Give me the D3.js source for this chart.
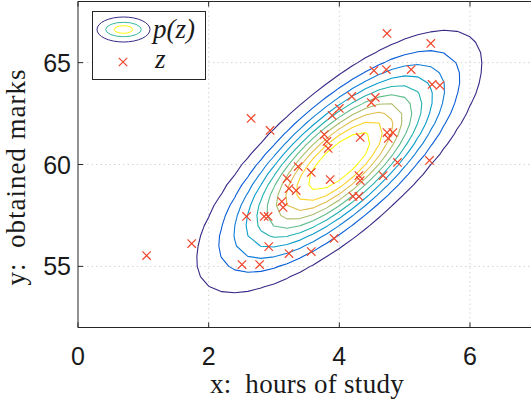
<!DOCTYPE html>
<html>
<head>
<meta charset="utf-8">
<script src="https://cdn.jsdelivr.net/npm/d3@7"></script>
<style>
  html, body { margin: 0; padding: 0; background: #fff; overflow: hidden; }
  svg { display: block; }
</style>
</head>
<body>
<svg id="chart" width="531" height="400"></svg>
<script>
// samples z = (hours of study, obtained marks)
const hours = [1.05, 1.74, 2.51, 2.78, 2.92, 3.23, 3.57, 3.92, 2.58, 2.85,
               2.91, 3.12, 3.14, 3.23, 3.34, 3.20, 3.37, 3.57, 2.65, 2.94,
               3.77, 3.81, 3.83, 3.89, 4.00, 4.19, 4.53, 4.72, 5.10, 4.73,
               5.40, 5.42, 5.54, 4.55, 4.49, 4.32, 4.73, 4.75, 4.82, 3.86,
               4.30, 4.32, 4.21, 4.30, 4.67, 4.89, 5.38];
const marks = [55.53, 56.12, 55.09, 55.09, 55.97, 55.63, 55.73, 56.37, 57.45, 57.45,
               57.45, 58.18, 57.89, 58.82, 58.72, 59.31, 59.90, 59.61, 62.26, 61.67,
               61.47, 61.13, 60.79, 62.41, 62.75, 63.34, 64.61, 64.66, 64.66, 66.43,
               65.94, 63.93, 63.88, 63.29, 63.04, 61.33, 61.57, 61.28, 61.57, 59.26,
               59.46, 59.21, 58.43, 58.43, 59.46, 60.10, 60.20];

// gaussian p(z): mean and covariance estimated from the drawn contours
const mu = [4.0, 60.15];
const sigma = [[0.98, 2.17], [2.17, 8.53]];
// contour levels as fractions of the peak density
const levelFractions = [1, 2, 3, 4, 5, 6, 7, 8, 9, 10].map(k => k / 11.3);

const xDomain = [0, 7];
const yDomain = [52, 68];
const xTicks = [0, 2, 4, 6];
const yTicks = [55, 60, 65];
const xLabel = 'x:\u2002hours of study';
const yLabel = 'y:\u2002obtained marks';

// parula colormap stops
const parulaStops = [
  [0.2081, 0.1663, 0.5292], [0.0117, 0.3875, 0.8820], [0.0793, 0.5200, 0.8312],
  [0.0228, 0.6535, 0.7768], [0.2178, 0.7250, 0.6193], [0.5709, 0.7485, 0.4494],
  [0.8507, 0.7299, 0.3360], [0.9880, 0.8066, 0.1794], [0.9763, 0.9831, 0.0538]
];
const parula = d3.scaleLinear()
  .domain(parulaStops.map((d, i) => i / (parulaStops.length - 1)))
  .range(parulaStops.map(c => d3.rgb(c[0] * 255, c[1] * 255, c[2] * 255).toString()))
  .interpolate(d3.interpolateRgb)
  .clamp(true);

const markerColor = '#f0452a';
const axisColor = '#262626';

const svg = d3.select('#chart');
const x = d3.scaleLinear().domain(xDomain).range([78, 535.3]);
const y = d3.scaleLinear().domain(yDomain).range([327.5, 1.5]);

// grid lines
svg.append('g')
  .selectAll('line')
  .data(xTicks.filter(d => d > xDomain[0]))
  .enter().append('line')
  .attr('x1', d => x(d)).attr('x2', d => x(d))
  .attr('y1', y(yDomain[0])).attr('y2', y(yDomain[1]))
  .attr('stroke', '#d4d4d4').attr('stroke-dasharray', '1.5,3');
svg.append('g')
  .selectAll('line')
  .data(yTicks)
  .enter().append('line')
  .attr('x1', x(xDomain[0])).attr('x2', x(xDomain[1]))
  .attr('y1', d => y(d)).attr('y2', d => y(d))
  .attr('stroke', '#d4d4d4').attr('stroke-dasharray', '1.5,3');

// density on a coarse grid, like the original surface
const det = sigma[0][0] * sigma[1][1] - sigma[0][1] * sigma[1][0];
function pdf(a, b) {
  const dx = a - mu[0], dy = b - mu[1];
  const q = (sigma[1][1] * dx * dx - 2 * sigma[0][1] * dx * dy + sigma[0][0] * dy * dy) / det;
  return Math.exp(-q / 2) / (2 * Math.PI * Math.sqrt(det));
}

const stepX = 0.2, stepY = 0.5;
const gx = d3.range(xDomain[0], xDomain[1] + 1e-9, stepX);
const gy = d3.range(yDomain[0], yDomain[1] + 1e-9, stepY);
const values = [];
gy.forEach(b => gx.forEach(a => values.push(pdf(a, b))));
const peak = 1 / (2 * Math.PI * Math.sqrt(det));
const levels = levelFractions.map(f => f * peak);
const lmin = d3.min(levels), lmax = d3.max(levels);

const contours = d3.contours().size([gx.length, gy.length]).thresholds(levels)(values);
const proj = d3.geoTransform({
  point(px, py) {
    this.stream.point(x(xDomain[0] + (px - 0.5) * stepX), y(yDomain[0] + (py - 0.5) * stepY));
  }
});
const path = d3.geoPath(proj);

svg.append('g')
  .selectAll('path')
  .data(contours)
  .enter().append('path')
  .attr('d', path)
  .attr('fill', 'none')
  .attr('stroke', d => parula((d.value - lmin) / (lmax - lmin)))
  .attr('stroke-width', 1.1)
  .attr('stroke-linejoin', 'round');

// samples as x markers
const cross = 4.2;
const crossPath = (cx, cy) =>
  `M${cx - cross},${cy - cross}L${cx + cross},${cy + cross}M${cx - cross},${cy + cross}L${cx + cross},${cy - cross}`;
svg.append('g')
  .selectAll('path')
  .data(hours.map((h, i) => [h, marks[i]]))
  .enter().append('path')
  .attr('d', d => crossPath(x(d[0]), y(d[1])))
  .attr('stroke', markerColor)
  .attr('stroke-width', 1.2)
  .attr('fill', 'none');

// axes box (right edge falls outside the window)
const ax = svg.append('g').attr('stroke', axisColor).attr('stroke-width', 1).attr('fill', 'none');
ax.append('line').attr('x1', x(0)).attr('x2', x(7)).attr('y1', y(52)).attr('y2', y(52));
ax.append('line').attr('x1', x(0)).attr('x2', x(7)).attr('y1', y(68)).attr('y2', y(68));
ax.append('line').attr('x1', x(0)).attr('x2', x(0)).attr('y1', y(52)).attr('y2', y(68));

const tickLen = 5;
xTicks.forEach(t => {
  ax.append('line').attr('x1', x(t)).attr('x2', x(t)).attr('y1', y(52)).attr('y2', y(52) - tickLen);
  ax.append('line').attr('x1', x(t)).attr('x2', x(t)).attr('y1', y(68)).attr('y2', y(68) + tickLen);
});
yTicks.forEach(t => {
  ax.append('line').attr('x1', x(0)).attr('x2', x(0) + tickLen).attr('y1', y(t)).attr('y2', y(t));
});

// tick labels
svg.append('g')
  .selectAll('text')
  .data(xTicks)
  .enter().append('text')
  .attr('x', d => x(d)).attr('y', 365)
  .attr('text-anchor', 'middle')
  .attr('font-family', 'Liberation Sans, Arial, sans-serif')
  .attr('font-size', 25)
  .attr('fill', '#1a1a1a')
  .text(d => d);
svg.append('g')
  .selectAll('text')
  .data(yTicks)
  .enter().append('text')
  .attr('x', 71).attr('y', d => y(d) + 9)
  .attr('text-anchor', 'end')
  .attr('font-family', 'Liberation Sans, Arial, sans-serif')
  .attr('font-size', 25)
  .attr('fill', '#1a1a1a')
  .text(d => d);

// axis labels
svg.append('text')
  .attr('x', 307).attr('y', 393)
  .attr('text-anchor', 'middle')
  .attr('font-family', 'Liberation Serif, Times New Roman, serif')
  .attr('font-size', 27)
  .attr('letter-spacing', 0.3)
  .attr('fill', '#1a1a1a')
  .text(xLabel);
svg.append('text')
  .attr('transform', 'translate(25,177) rotate(-90)')
  .attr('text-anchor', 'middle')
  .attr('font-family', 'Liberation Serif, Times New Roman, serif')
  .attr('font-size', 27)
  .attr('letter-spacing', 1)
  .attr('fill', '#1a1a1a')
  .text(yLabel);

// legend
const lg = svg.append('g');
lg.append('rect')
  .attr('x', 92.5).attr('y', 11.5).attr('width', 113).attr('height', 68)
  .attr('fill', '#fff').attr('stroke', axisColor).attr('stroke-width', 1);
const icon = [[26.5, 12.5, 0], [17.8, 7.2, 0.5], [9.2, 3.8, 1]];
lg.selectAll('ellipse')
  .data(icon)
  .enter().append('ellipse')
  .attr('cx', 123.5).attr('cy', 29.5)
  .attr('rx', d => d[0]).attr('ry', d => d[1])
  .attr('fill', 'none')
  .attr('stroke', d => parula(d[2]))
  .attr('stroke-width', 1);
lg.append('path')
  .attr('d', crossPath(123, 62))
  .attr('stroke', markerColor).attr('stroke-width', 1.2).attr('fill', 'none');
lg.append('text')
  .attr('x', 153).attr('y', 38)
  .attr('font-family', 'Liberation Serif, Times New Roman, serif')
  .attr('font-style', 'italic')
  .attr('font-size', 27)
  .attr('fill', '#1a1a1a')
  .text('p(z)');
lg.append('text')
  .attr('x', 155).attr('y', 68)
  .attr('font-family', 'Liberation Serif, Times New Roman, serif')
  .attr('font-style', 'italic')
  .attr('font-size', 27)
  .attr('fill', '#1a1a1a')
  .text('z');
</script>
</body>
</html>
